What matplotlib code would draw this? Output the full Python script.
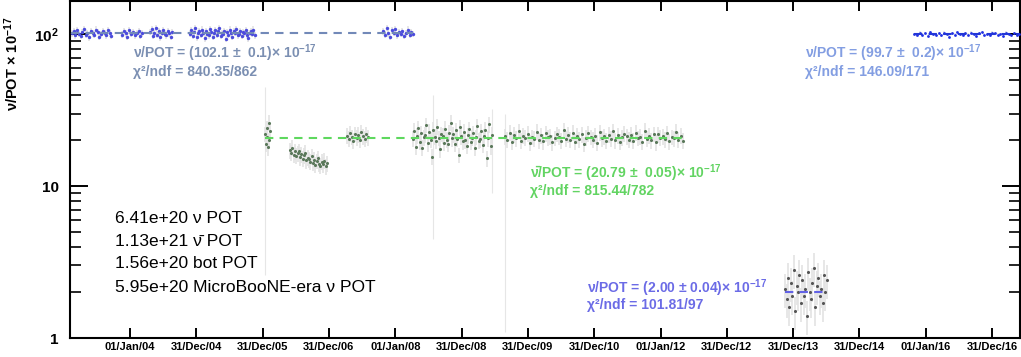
import numpy as np
import pandas as pd
import matplotlib
matplotlib.use("Agg")
import matplotlib.pyplot as plt
import matplotlib.dates as mdates
from matplotlib.ticker import FixedLocator, LogLocator, NullFormatter

plt.rcParams['font.family'] = ['Liberation Sans', 'DejaVu Sans']
plt.rcParams['mathtext.fontset'] = 'custom'
plt.rcParams['mathtext.rm'] = 'Liberation Sans:bold'
plt.rcParams['mathtext.it'] = 'Liberation Sans:bold'
plt.rcParams['mathtext.bf'] = 'Liberation Sans:bold'

# --- data: runs (start, end) and per-day rate values (x 1e-17) ---
nu_runs = [("2003-02-15", "2003-09-20"), ("2003-11-17", "2004-03-08"),
           ("2004-04-20", "2004-08-20"), ("2004-11-27", "2005-11-18"),
           ("2007-10-25", "2008-04-08")]
nu_vals = [
    [101, 104, 98, 106, 100, 97, 103, 108, 99, 102, 95, 105, 101, 99, 107, 103, 96, 100, 104, 102, 98, 106, 101, 97],
    [99, 104, 101, 96, 106, 100, 103, 98, 102, 105, 97, 101],
    [103, 108, 97, 101, 110, 99, 104, 95, 102, 106, 100, 98, 105, 101, 96, 103],
    [100, 106, 97, 103, 109, 95, 101, 104, 99, 107, 102, 94, 105, 100, 98, 108, 103, 96, 101, 106,
     99, 104, 110, 97, 102, 100, 105, 93, 103, 99, 107, 101, 96, 104, 102, 108, 98, 100, 105, 97,
     103, 101, 106, 99, 94, 102, 104, 100, 107, 98],
    [104, 99, 110, 101, 96, 106, 102, 108, 98, 103, 100, 105, 97, 101, 107, 99, 103, 100],
]

ub_runs = [("2015-10-30", "2017-05-30")]
ub_vals = [[100, 98, 102, 99, 101, 97, 103, 100, 99, 101, 98, 102, 100, 96, 101, 99, 103, 100, 98, 101,
            99, 102, 100, 97, 101, 103, 99, 100, 98, 102, 101, 99, 100, 97, 102, 100, 99, 101, 98, 100]]

nubar_runs = [("2006-01-15", "2006-02-10"), ("2006-05-30", "2006-12-20"),
              ("2007-04-10", "2007-08-03"), ("2008-04-08", "2009-06-17"),
              ("2009-08-28", "2012-05-03")]
nubar_vals = [
    [22, 19, 24, 21, 18, 26, 20, 23],
    [17.2, 16.5, 17.8, 16.0, 16.9, 15.8, 16.4, 17.0, 15.5, 16.2, 15.1, 15.9, 16.6, 14.8, 15.4,
     15.0, 14.5, 15.7, 14.2, 14.9, 13.8, 14.6, 15.2, 14.0, 13.6, 14.4, 13.9, 14.7, 13.5, 14.1],
    [21.5, 20.4, 22.3, 21.0, 19.8, 22.0, 20.8, 21.7, 20.1, 22.6, 21.2, 20.5, 21.9, 20.9],
    [20.5, 23.1, 18.2, 21.4, 24.0, 19.6, 22.3, 17.8, 20.9, 21.8, 25.2, 19.1, 22.7, 20.2, 15.6,
     23.5, 21.1, 19.9, 24.6, 20.7, 17.5, 22.0, 21.5, 19.3, 23.8, 20.1, 18.9, 22.5, 26.0, 20.6,
     21.9, 19.0, 23.2, 20.4, 16.0, 24.3, 21.2, 19.7, 22.8, 20.0, 18.4, 21.6, 23.6, 19.5, 20.8,
     22.2, 17.9, 21.0, 24.8, 19.8, 20.3, 22.9, 18.7, 21.3, 23.4, 15.2, 20.6, 25.5, 18.3, 21.7],
    [21.2, 20.1, 22.4, 19.5, 21.8, 20.6, 23.0, 19.9, 21.4, 20.8, 22.1, 19.2, 21.0, 20.4, 22.7,
     20.0, 21.6, 19.7, 22.3, 20.9, 21.3, 19.4, 20.7, 22.0, 21.1, 19.8, 23.3, 20.5, 21.7, 20.2,
     22.5, 19.6, 21.5, 20.3, 21.9, 18.9, 20.8, 22.2, 21.0, 20.1, 21.4, 19.3, 22.6, 20.6, 21.2,
     19.9, 21.8, 20.4, 22.9, 20.0, 21.6, 19.5, 20.9, 22.1, 21.3, 20.2, 21.7, 19.8, 22.4, 20.7,
     21.1, 19.6, 23.1, 20.5, 21.5, 20.0, 22.0, 19.4, 21.9, 20.8, 21.3, 20.3, 22.3, 19.7, 21.0,
     20.6, 22.7, 20.1, 21.4, 19.9],
]

bot_runs = [("2013-11-17", "2014-07-05")]
bot_vals = [[2.1, 1.8, 2.5, 1.6, 2.3, 1.9, 2.8, 1.5, 2.2, 2.0, 2.6, 1.7, 2.4, 1.9, 2.1,
             1.4, 2.7, 2.0, 1.8, 2.3, 2.9, 1.6, 2.2, 2.5, 1.9, 2.1, 1.7, 2.6, 2.0, 2.4]]

# isolated days with large uncertainties
out_dates = ["2006-01-12", "2008-07-27", "2009-06-17", "2009-08-28"]
out_vals = [21, 20, 18, 20]
out_lo = [2.6, 4.5, 9.0, 1.1]
out_hi = [45, 40, 32, 30]

# fits: value, start, end
fit_nu = (102.1, "2003-02-10", "2008-04-08")
fit_ub = (99.7, "2015-10-30", "2017-05-30")
fit_nubar = (20.79, "2006-01-15", "2012-05-03")
fit_bot = (2.00, "2013-11-17", "2014-07-05")

tick_dates = ["2004-01-01", "2004-12-31", "2005-12-31", "2006-12-31", "2008-01-01",
              "2008-12-31", "2009-12-31", "2010-12-31", "2012-01-01", "2012-12-31",
              "2013-12-31", "2014-12-31", "2016-01-01", "2016-12-31"]
tick_labels = ["01/Jan/04", "31/Dec/04", "31/Dec/05", "31/Dec/06", "01/Jan/08",
               "31/Dec/08", "31/Dec/09", "31/Dec/10", "01/Jan/12", "31/Dec/12",
               "31/Dec/13", "31/Dec/14", "01/Jan/16", "31/Dec/16"]

pot_lines = ["6.41e+20 ν POT", "1.13e+21 ν̄ POT", "1.56e+20 bot POT",
             "5.95e+20 MicroBooNE-era ν POT"]

W, H = 1021, 357
fig = plt.figure(figsize=(W / 100, H / 100), dpi=100)
ax = fig.add_axes([70 / W, 19 / H, 950 / W, 337 / H])


def d(s):
    return mdates.date2num(pd.Timestamp(s))


def draw(runs, vals, col, rel, size=4):
    for (a, b), v in zip(runs, vals):
        x = mdates.date2num(pd.date_range(a, b, periods=len(v)))
        v = np.array(v, dtype=float)
        ax.errorbar(x, v, yerr=rel * v, fmt='none', ecolor='#e3e3e3', elinewidth=1.2, zorder=1)
        ax.scatter(x, v, s=size, color=col, lw=0, zorder=3)


ax.errorbar([d(s) for s in out_dates], out_vals,
            yerr=[np.array(out_vals) - np.array(out_lo), np.array(out_hi) - np.array(out_vals)],
            fmt='none', ecolor='#e6e6e6', elinewidth=0.8, zorder=1)

draw(nu_runs, nu_vals, '#4b4bdc', 0.05, 6)
draw(ub_runs, ub_vals, '#1f2fe6', 0.02, 4)
draw(nubar_runs, nubar_vals, '#5a785a', 0.12, 5)
draw(bot_runs, bot_vals, '#555555', 0.25, 5)

for (v, a, b), c in zip([fit_nu, fit_ub, fit_nubar, fit_bot],
                        ['#7289b8', '#2236d8', '#5ed85e', '#6262e6']):
    ax.hlines(v, d(a), d(b), colors=c, linestyles=(0, (4, 3)), lw=1.5, zorder=4)

ax.set_yscale('log')
ax.set_ylim(1, 165)
ax.set_xlim(d("2003-02-04"), d("2017-06-03"))

ax.xaxis.set_major_locator(FixedLocator([d(s) for s in tick_dates]))
ax.set_xticklabels(tick_labels, fontsize=8, fontweight='bold')
ax.yaxis.set_major_locator(FixedLocator([1, 10, 100]))
ax.set_yticklabels(["1", "10", "$10^{2}$"], fontsize=11, fontweight='bold')
ax.yaxis.set_minor_locator(LogLocator(base=10, subs=np.arange(2, 10)))
ax.yaxis.set_minor_formatter(NullFormatter())
ax.tick_params(axis='x', which='major', direction='in', length=7, width=1.4,
               top=True, pad=3)
ax.tick_params(axis='y', which='major', direction='in', length=13, width=1.4,
               right=True, pad=8)
ax.tick_params(axis='y', which='minor', direction='in', length=8, width=1.2, right=True)
for sp in ax.spines.values():
    sp.set_linewidth(1.5)

fig.text(12 / W, 1 - 64 / H, "ν/POT × 10$^{-17}$", rotation=90, fontsize=10.5,
         fontweight='bold', ha='center', va='center')


def label(x, y, s, c, size=10, weight='bold'):
    fig.text(x / W, 1 - y / H, s, color=c, fontsize=size, fontweight=weight,
             ha='left', va='center')


label(133, 53, "ν/POT = (102.1 ±  0.1)× 10$^{-17}$", '#7b8fb2')
label(133, 72, "χ²/ndf = 840.35/862", '#7b8fb2')
label(805, 53, "ν/POT = (99.7 ±  0.2)× 10$^{-17}$", '#839ee2')
label(805, 72, "χ²/ndf = 146.09/171", '#839ee2')
label(530, 173, "ν̄/POT = (20.79 ±  0.05)× 10$^{-17}$", '#62d462')
label(530, 191, "χ²/ndf = 815.44/782", '#62d462')
label(587, 288, "ν/POT = (2.00 ± 0.04)× 10$^{-17}$", '#6b6be6')
label(587, 305, "χ²/ndf = 101.81/97", '#6b6be6')

for i, s in enumerate(pot_lines):
    label(115, 218 + 23 * i, s, 'black', size=12.5, weight='normal')

fig.savefig("out.png", dpi=100)
